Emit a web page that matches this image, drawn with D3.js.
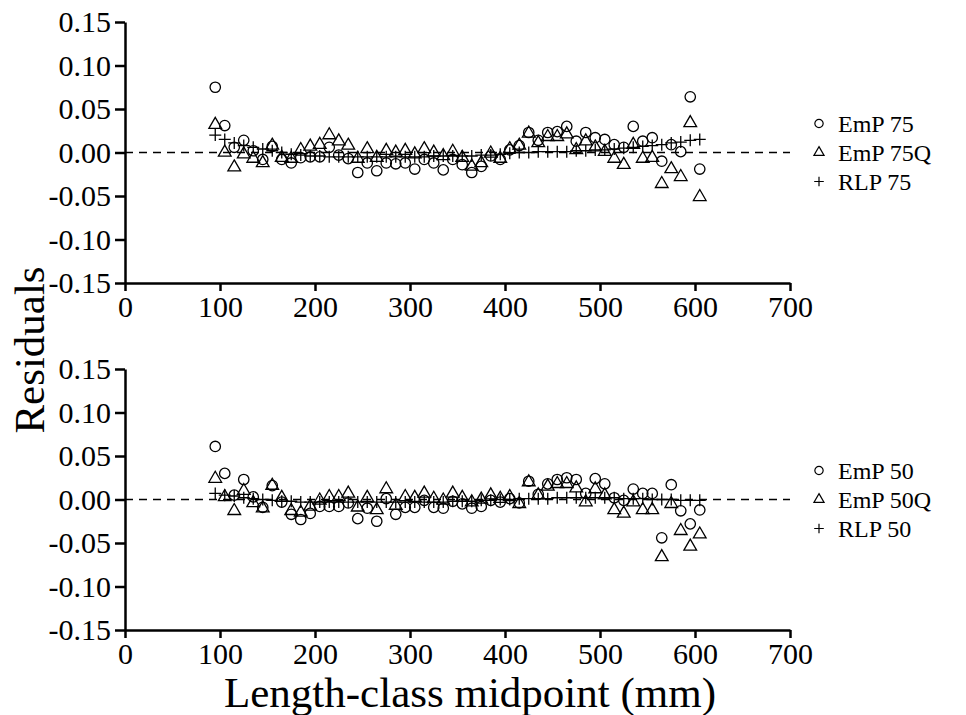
<!DOCTYPE html>
<html>
<head>
<meta charset="utf-8">
<script src="https://cdn.jsdelivr.net/npm/d3@7"></script>
<style>
  body { margin: 0; background: #fff; }
  text { font-family: "Liberation Serif", "Times New Roman", serif; }
</style>
</head>
<body>
<svg id="chart"></svg>
<script>
// length-class midpoints (mm)
var lengths = d3.range(95, 606, 10)

var emp75 = [0.075, 0.031, 0.006, 0.014, 0.002, -0.008, 0.007, -0.008, -0.012, -0.006,
  -0.005, -0.005, 0.006, -0.003, -0.007, -0.023, -0.012, -0.021, -0.012, -0.013,
  -0.012, -0.019, -0.008, -0.012, -0.020, -0.008, -0.014, -0.023, -0.016, -0.004,
  -0.008, 0.003, 0.008, 0.023, 0.014, 0.023, 0.024, 0.030, 0.013, 0.023,
  0.017, 0.015, 0.009, 0.006, 0.030, 0.013, 0.017, -0.010, 0.009, 0.001,
  0.064, -0.019]

var emp75q = [0.032, 0.000, -0.017, -0.002, -0.007, -0.012, 0.008, -0.006, -0.007, 0.003,
  0.007, 0.009, 0.020, 0.013, 0.008, -0.007, 0.004, -0.006, 0.002, 0.000,
  0.002, -0.002, 0.004, 0.000, -0.004, 0.001, -0.006, -0.016, -0.012, -0.001,
  -0.007, 0.004, 0.008, 0.022, 0.011, 0.018, 0.018, 0.021, 0.003, 0.013,
  0.006, 0.001, -0.007, -0.014, 0.009, -0.007, -0.006, -0.036, -0.019, -0.028,
  0.034, -0.051]

var rlp75 = [0.020, 0.015, 0.011, 0.008, 0.006, 0.004, 0.002, 0.000, -0.002, -0.003,
  -0.004, -0.004, -0.005, -0.005, -0.005, -0.005, -0.005, -0.005, -0.005, -0.005,
  -0.005, -0.005, -0.005, -0.004, -0.004, -0.004, -0.004, -0.004, -0.003, -0.003,
  -0.002, -0.001, 0.000, 0.000, 0.001, 0.001, 0.001, 0.001, 0.002, 0.002,
  0.003, 0.003, 0.004, 0.005, 0.006, 0.007, 0.008, 0.009, 0.011, 0.012,
  0.014, 0.015]

var emp50 = [0.061, 0.030, 0.005, 0.023, 0.003, -0.009, 0.016, -0.003, -0.017, -0.023,
  -0.016, -0.008, -0.008, -0.008, -0.004, -0.022, -0.010, -0.025, 0.001, -0.017,
  -0.009, -0.009, -0.001, -0.009, -0.010, -0.002, -0.005, -0.010, -0.008, -0.001,
  -0.003, 0.001, -0.004, 0.021, 0.006, 0.018, 0.023, 0.025, 0.023, 0.007,
  0.024, 0.018, 0.002, -0.001, 0.012, 0.007, 0.007, -0.044, 0.017, -0.013,
  -0.028, -0.012]

var emp50q = [0.024, 0.003, -0.013, 0.010, -0.004, -0.010, 0.016, 0.002, -0.013, -0.015,
  -0.008, -0.001, 0.003, 0.003, 0.007, -0.009, 0.002, -0.012, 0.012, -0.007,
  0.003, 0.002, 0.007, 0.001, -0.001, 0.007, 0.002, -0.003, 0.000, 0.005,
  0.001, 0.003, -0.005, 0.020, 0.005, 0.015, 0.018, 0.018, 0.013, -0.003,
  0.012, 0.005, -0.012, -0.016, -0.003, -0.012, -0.012, -0.066, -0.005, -0.036,
  -0.054, -0.040]

var rlp50 = [0.007, 0.005, 0.004, 0.002, 0.001, 0.000, -0.001, -0.002, -0.002, -0.003,
  -0.003, -0.003, -0.003, -0.003, -0.003, -0.003, -0.003, -0.003, -0.003, -0.003,
  -0.003, -0.003, -0.003, -0.003, -0.003, -0.002, -0.002, -0.002, -0.001, -0.001,
  0.000, 0.000, 0.001, 0.001, 0.001, 0.001, 0.002, 0.002, 0.002, 0.002,
  0.002, 0.002, 0.002, 0.001, 0.001, 0.001, 0.000, 0.000, 0.000, -0.001,
  -0.001, -0.001]

var yTicks = [-0.15, -0.10, -0.05, 0.00, 0.05, 0.10, 0.15]
var xTicks = [0, 100, 200, 300, 400, 500, 600, 700]

var panels = [
  { top: 22, series: [emp75, emp75q, rlp75], names: ["EmP 75", "EmP 75Q", "RLP 75"] },
  { top: 369, series: [emp50, emp50q, rlp50], names: ["EmP 50", "EmP 50Q", "RLP 50"] }
]

var width = 966, height = 715
var left = 125, right = 790, panelH = 261

var svg = d3.select("#chart").attr("width", width).attr("height", height)

var x = d3.scaleLinear().domain([0, 700]).range([left, right])

var shapes = ["circle", "triangle", "plus"]

function marker(sel, shape, s) {
  if (shape == "circle") {
    sel.append("circle").attr("r", 5.2 * s)
  } else if (shape == "triangle") {
    sel.append("path").attr("d", d3.symbol(d3.symbolTriangle, 70 * s * s)())
  } else {
    var h = 6 * s
    sel.append("path").attr("d", "M" + (-h) + ",0H" + h + "M0," + (-h) + "V" + h)
  }
}

panels.forEach(function(p) {
  var y = d3.scaleLinear().domain([-0.15, 0.15]).range([p.top + panelH, p.top])
  var g = svg.append("g")

  // zero reference line
  g.append("line")
    .attr("x1", x(0)).attr("x2", x(700))
    .attr("y1", y(0)).attr("y2", y(0))
    .attr("stroke", "#000")
    .attr("stroke-width", 1.5)
    .attr("stroke-dasharray", "8,6")

  p.series.forEach(function(vals, i) {
    g.append("g").selectAll("g")
      .data(vals)
      .enter().append("g")
      .attr("transform", (d, j) => "translate(" + x(lengths[j]) + "," + y(d) + ")")
      .attr("fill", "none")
      .attr("stroke", "#000")
      .attr("stroke-width", 1.3)
      .each(function() { marker(d3.select(this), shapes[i], 1) })
  })

  var yAxis = g.append("g")
    .attr("transform", "translate(" + left + ",0)")
    .call(d3.axisLeft(y).tickValues(yTicks).tickSize(10).tickSizeOuter(0).tickPadding(4)
      .tickFormat(d => d.toFixed(2)))

  var xAxis = g.append("g")
    .attr("transform", "translate(0," + (p.top + panelH) + ")")
    .call(d3.axisBottom(x).tickValues(xTicks).tickSize(8).tickSizeOuter(0).tickPadding(5))

  yAxis.attr("font-family", null).attr("font-size", null)
  xAxis.attr("font-family", null).attr("font-size", null)

  g.selectAll(".domain, .tick line").attr("stroke", "#000").attr("stroke-width", 2.5)
  g.selectAll(".tick text")
    .attr("fill", "#000")
    .attr("font-family", "Liberation Serif")
    .attr("font-size", 30)

  // legend
  var leg = g.append("g")
  p.names.forEach(function(name, i) {
    var ly = y(0) + (i - 1) * 29
    var m = leg.append("g")
      .attr("transform", "translate(819," + ly + ")")
      .attr("fill", "none").attr("stroke", "#000").attr("stroke-width", 1.2)
    marker(m, shapes[i], 0.8)
    leg.append("text")
      .attr("x", 838).attr("y", ly)
      .attr("dy", "0.35em")
      .style("font-size", "24px")
      .text(name)
  })
})

svg.append("text")
  .attr("transform", "translate(44,350) rotate(-90)")
  .attr("text-anchor", "middle")
  .style("font-size", "43px")
  .text("Residuals")

svg.append("text")
  .attr("x", 470).attr("y", 707)
  .attr("text-anchor", "middle")
  .style("font-size", "43px")
  .text("Length-class midpoint (mm)")
</script>
</body>
</html>
